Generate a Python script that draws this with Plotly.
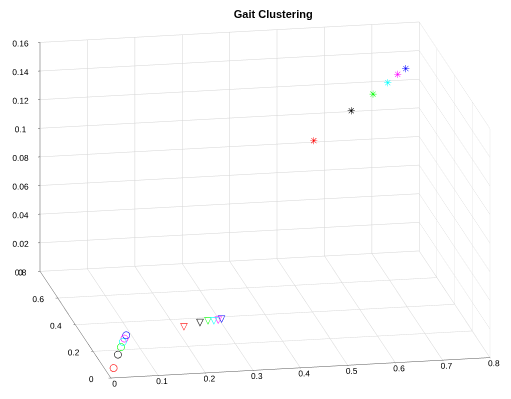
import plotly.graph_objects as go

colors = ["#ff0000", "#000000", "#00ff00", "#00ffff", "#ff00ff", "#0000ff"]

# circles (cluster 1)
circ_x = [0.019, 0.046, 0.0625, 0.073, 0.081, 0.089]
circ_y = [0.0715, 0.167, 0.221, 0.257, 0.281, 0.304]
circ_z = [0.0, 0.0, 0.0, 0.0, 0.0, 0.0]

# triangles (cluster 2)
tri_x = [0.218, 0.2565, 0.275, 0.287, 0.297, 0.305]
tri_y = [0.342, 0.367, 0.376, 0.3735, 0.377, 0.383]
tri_z = [0.0, 0.0, 0.0, 0.0, 0.0, 0.0]

# stars (cluster 3)
star_x = [0.540, 0.619, 0.665, 0.696, 0.717, 0.734]
star_y = [0.6, 0.6, 0.6, 0.6, 0.6, 0.6]
star_z = [0.1004, 0.1199, 0.1307, 0.1381, 0.1436, 0.1473]

xy_ticks = [0, 0.1, 0.2, 0.3, 0.4, 0.5, 0.6, 0.7, 0.8]
y_ticks = [0, 0.2, 0.4, 0.6, 0.8]
z_ticks = [0, 0.02, 0.04, 0.06, 0.08, 0.1, 0.12, 0.14, 0.16]

def lbl(v):
    return "%g" % v

fig = go.Figure()
for i, c in enumerate(colors):
    fig.add_trace(go.Scatter3d(
        x=[circ_x[i]], y=[circ_y[i]], z=[circ_z[i]], mode="text", text=["○"],
        textposition="middle center",
        textfont=dict(color=c, size=10, family="DejaVu Sans"),
        showlegend=False, hoverinfo="skip"))
    fig.add_trace(go.Scatter3d(
        x=[tri_x[i]], y=[tri_y[i]], z=[tri_z[i]], mode="text", text=["▽"],
        textposition="middle center",
        textfont=dict(color=c, size=10, family="DejaVu Sans"),
        showlegend=False, hoverinfo="skip"))
    fig.add_trace(go.Scatter3d(
        x=[star_x[i]], y=[star_y[i]], z=[star_z[i]], mode="text", text=["✳"],
        textposition="middle center",
        textfont=dict(color=c, size=10, family="DejaVu Sans"),
        showlegend=False, hoverinfo="skip"))

axis_common = dict(
    showbackground=False, showgrid=True, gridcolor="#d4d4d4", gridwidth=1,
    showline=True, linecolor="#555555", linewidth=1, zeroline=False,
    ticks="outside", ticklen=2, tickcolor="#555555", tickangle=0,
    tickfont=dict(family="Liberation Sans, Arial", size=10, color="#000000"),
    title=dict(text=""), showspikes=False, autorange=False,
)

k = 2.01
e = 3.0
fig.update_layout(
    width=511, height=399,
    margin=dict(l=0, r=0, t=0, b=0),
    paper_bgcolor="white",
    title=dict(text="<b>Gait Clustering</b>", x=0.519, xanchor="center", y=0.985, yanchor="middle",
               font=dict(family="Liberation Sans, Arial", size=11, color="#000000")),
    scene=dict(
        domain=dict(x=[0.0055, 1.0], y=[0.0386, 1.0]),
        xaxis=dict(range=[0, 0.8], tickvals=xy_ticks, ticktext=[lbl(v) for v in xy_ticks], **axis_common),
        yaxis=dict(range=[0, 0.8], tickvals=y_ticks, ticktext=[lbl(v) for v in y_ticks], **axis_common),
        zaxis=dict(range=[0, 0.16], tickvals=z_ticks, ticktext=[lbl(v) for v in z_ticks], **axis_common),
        aspectmode="manual",
        aspectratio=dict(x=1.0 * k, y=0.987 * k, z=0.619 * k),
        camera=dict(
            projection=dict(type="orthographic"),
            up=dict(x=0, y=0, z=1),
            center=dict(x=0, y=0, z=0),
            eye=dict(x=-0.178 * e, y=-0.942 * e, z=0.285 * e),
        ),
    ),
    hovermode=False,
)

fig.write_html("out.html")
